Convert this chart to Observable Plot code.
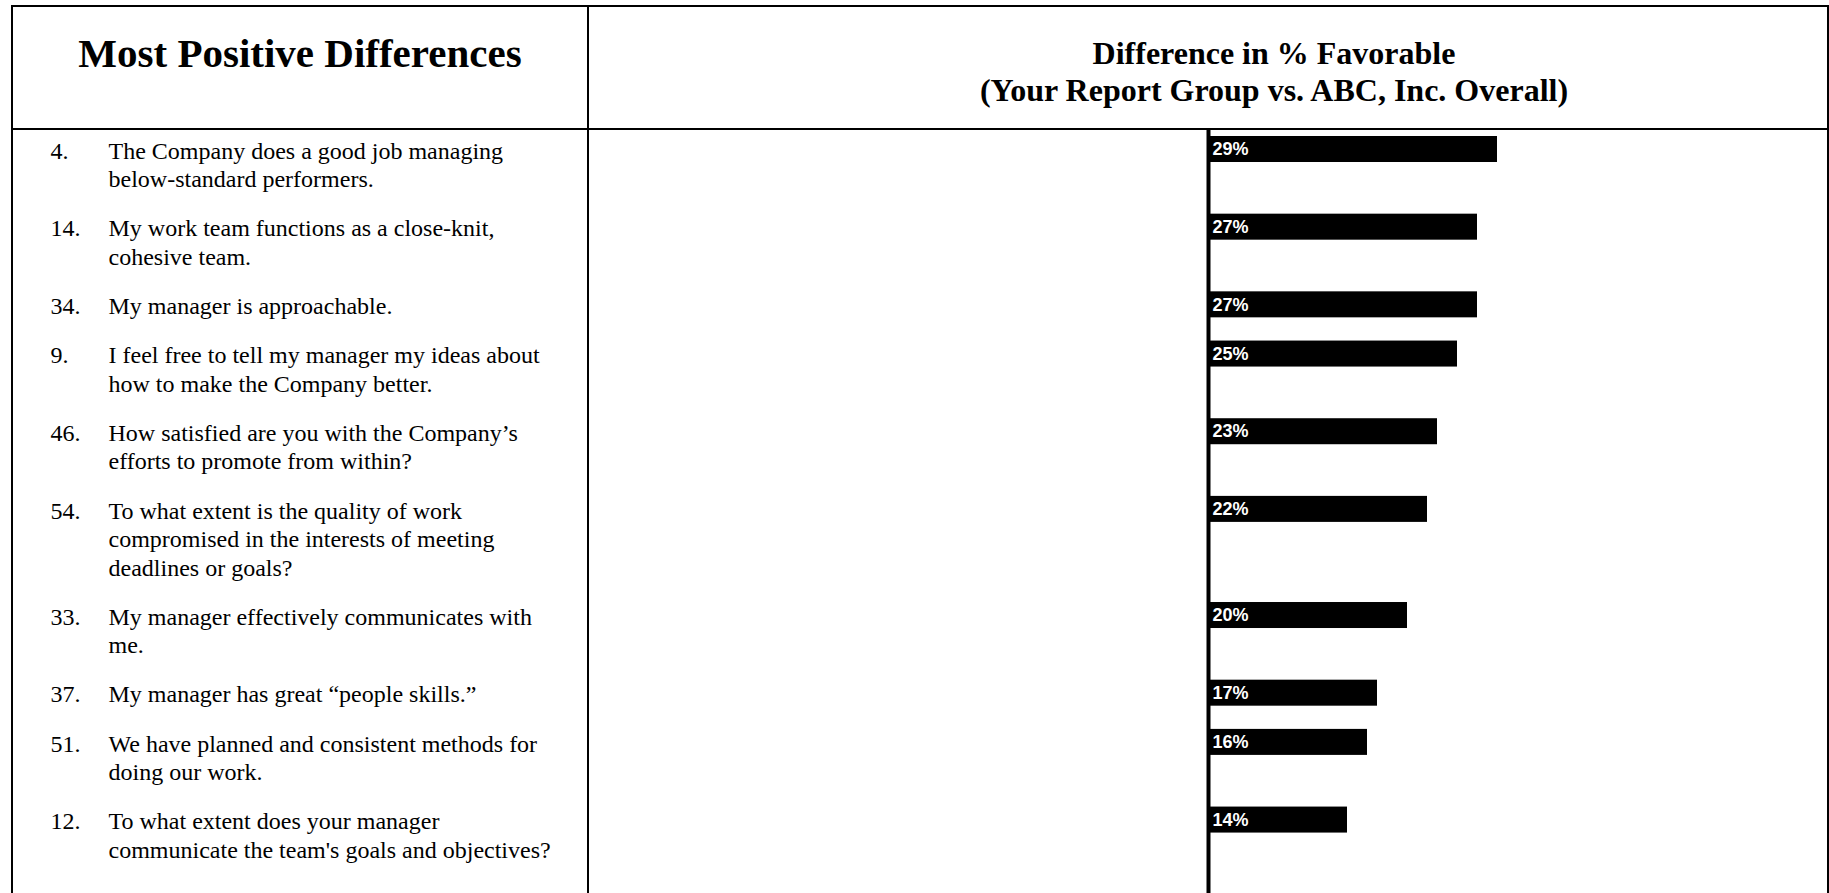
<!DOCTYPE html>
<html>
<head>
<meta charset="utf-8">
<script src="https://cdn.jsdelivr.net/npm/d3@7"></script>
<script src="https://cdn.jsdelivr.net/npm/@observablehq/plot@0.6"></script>
<style>
  html, body { margin: 0; padding: 0; background: #fff; width: 1829px; height: 893px; overflow: hidden; }
  #frame { position: absolute; left: 11px; top: 5px; width: 1818px; height: 900px; box-sizing: border-box;
           border: 2px solid #000; border-bottom: none; }
  #head { position: absolute; left: 0; top: 0; width: 1814px; height: 123px; box-sizing: border-box; border-bottom: 2px solid #000; }
  .cell { position: absolute; top: 0; box-sizing: border-box; }
  #headLeft { left: 0; width: 576px; height: 121px; border-right: 2px solid #000; text-align: center;
              font: bold 41px/40px "Liberation Serif", "Times New Roman", serif; padding-top: 26px; color: #000; }
  #headRight { left: 576px; width: 1238px; height: 121px; text-align: center; padding-left: 132px;
               font: bold 32px/37.5px "Liberation Serif", "Times New Roman", serif; padding-top: 27.5px; color: #000; }
  #body { position: absolute; left: 0; top: 123px; width: 1814px; height: 763px; }
  #bodyLeft { left: 0; width: 576px; height: 763px; border-right: 2px solid #000; }
  #bodyRight { left: 576px; width: 1238px; height: 763px; }
  svg { display: block; }
</style>
</head>
<body>
<div id="frame">
  <div id="head">
    <div class="cell" id="headLeft">Most Positive Differences</div>
    <div class="cell" id="headRight">Difference in % Favorable<br>(Your Report Group vs. ABC, Inc. Overall)</div>
  </div>
  <div id="body">
    <div class="cell" id="bodyLeft"></div>
    <div class="cell" id="bodyRight"></div>
  </div>
</div>
<script>
// ---- Data ----
const itemNumbers = ["4.", "14.", "34.", "9.", "46.", "54.", "33.", "37.", "51.", "12."];
const questions = [
  "The Company does a good job managing\nbelow-standard performers.",
  "My work team functions as a close-knit,\ncohesive team.",
  "My manager is approachable.",
  "I feel free to tell my manager my ideas about\nhow to make the Company better.",
  "How satisfied are you with the Company\u2019s\nefforts to promote from within?",
  "To what extent is the quality of work\ncompromised in the interests of meeting\ndeadlines or goals?",
  "My manager effectively communicates with\nme.",
  "My manager has great \u201cpeople skills.\u201d",
  "We have planned and consistent methods for\ndoing our work.",
  "To what extent does your manager\ncommunicate the team's goals and objectives?"
];
const differences = [29, 27, 27, 25, 23, 22, 20, 17, 16, 14];

// ---- Layout (in units of text lines) ----
const pxPerLine = 28.45;
const gapLines = 0.73;
const barLines = 0.914;
const bodyHeight = 763;
const topPad = 6;

let acc = 0;
const rows = itemNumbers.map((num, i) => {
  const lines = questions[i].split("\n").length;
  const row = {num, question: questions[i], diff: differences[i], label: differences[i] + "%", start: acc};
  acc += lines + gapLines;
  return row;
});

const yScale = {domain: [-topPad / pxPerLine, (bodyHeight - topPad) / pxPerLine], reverse: true, axis: null};
const serif = "Liberation Serif, Times New Roman, serif";

// Left column: item numbers and question text
const left = Plot.plot({
  width: 574, height: bodyHeight,
  marginTop: 0, marginBottom: 0, marginLeft: 0, marginRight: 0,
  y: yScale,
  style: {fontFamily: serif, background: "transparent", color: "#000"},
  marks: [
    Plot.text(rows, {y: "start", text: "num", frameAnchor: "left", dx: 37, dy: 2.1,
      textAnchor: "start", lineAnchor: "top", fontSize: 24, lineHeight: 1.185, fill: "#000"}),
    Plot.text(rows, {y: "start", text: "question", frameAnchor: "left", dx: 95, dy: 2.1,
      textAnchor: "start", lineAnchor: "top", fontSize: 24, lineHeight: 1.185, fill: "#000"})
  ]
});
document.getElementById("bodyLeft").appendChild(left);

// Right column: bars
const right = Plot.plot({
  width: 1238, height: bodyHeight,
  marginTop: 0, marginBottom: 0, marginLeft: 618, marginRight: 20,
  x: {domain: [0, 60], axis: null},
  y: yScale,
  style: {fontFamily: "Liberation Sans, Arial, sans-serif", background: "transparent"},
  marks: [
    Plot.rect(rows, {x1: 0, x2: "diff", y1: "start", y2: d => d.start + barLines, fill: "#000"}),
    Plot.ruleX([0], {stroke: "#000", strokeWidth: 4, dx: 1}),
    Plot.text(rows, {x: 0, y: d => d.start + barLines / 2, text: "label", textAnchor: "start", dx: 5,
      lineAnchor: "middle", fontSize: 18, fontWeight: "bold", fill: "#fff"})
  ]
});
document.getElementById("bodyRight").appendChild(right);
</script>
</body>
</html>
